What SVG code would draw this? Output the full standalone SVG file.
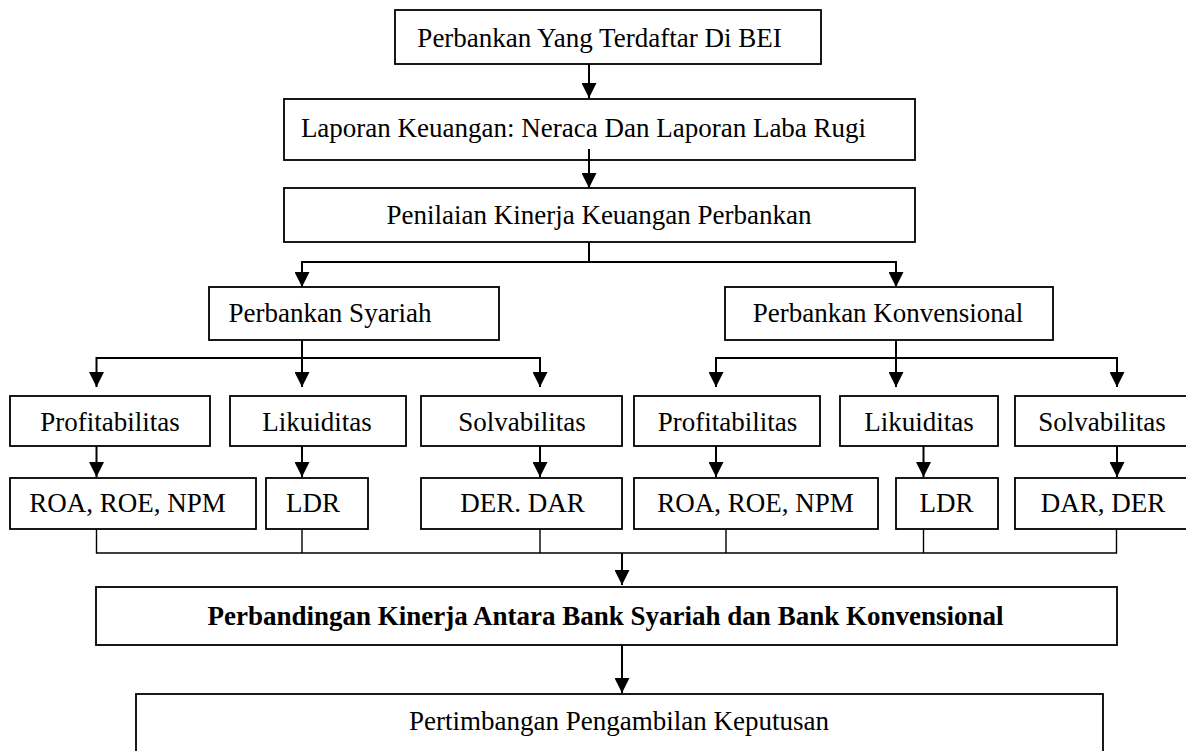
<svg xmlns="http://www.w3.org/2000/svg" width="1186" height="751" viewBox="0 0 1186 751">
<style>
.box{fill:none;stroke:#000;stroke-width:1.8}
.t{font-family:"Liberation Serif","Times New Roman",serif;font-size:27px;fill:#000;text-anchor:middle}
.b{font-weight:bold}
.c{fill:none;stroke:#000;stroke-width:2}
.m{fill:none;stroke:#000;stroke-width:1.4}
</style>
<defs>
<marker id="ah" markerUnits="userSpaceOnUse" markerWidth="15" markerHeight="15" refX="15" refY="7.5" orient="auto">
<path d="M0,0 L15,7.5 L0,15 z" fill="#000"/>
</marker>
</defs>
<rect width="1186" height="751" fill="#fff"/>
<g id="connectors">
<path class="c" d="M589,64 V98" marker-end="url(#ah)"/>
<path class="c" d="M589,149 V188" marker-end="url(#ah)"/>
<path class="c" d="M589,242 V262 H302 V287" marker-end="url(#ah)"/>
<path class="c" d="M589,262 H896 V287" marker-end="url(#ah)"/>
<path class="c" d="M302,340 V387" marker-end="url(#ah)"/>
<path class="c" d="M302,358 H96.5 V387" marker-end="url(#ah)"/>
<path class="c" d="M302,358 H540 V387" marker-end="url(#ah)"/>
<path class="c" d="M896,340 V387" marker-end="url(#ah)"/>
<path class="c" d="M896,358 H716 V387" marker-end="url(#ah)"/>
<path class="c" d="M896,358 H1117 V387" marker-end="url(#ah)"/>
<path class="c" d="M96.5,446 V477" marker-end="url(#ah)"/>
<path class="c" d="M302,446 V477" marker-end="url(#ah)"/>
<path class="c" d="M540,446 V477" marker-end="url(#ah)"/>
<path class="c" d="M716,446 V477" marker-end="url(#ah)"/>
<path class="c" d="M923.5,446 V477" marker-end="url(#ah)"/>
<path class="c" d="M1117,446 V477" marker-end="url(#ah)"/>
<path class="m" d="M96.5,529 V553 H1116.5 V529 M302,529 V553 M540,529 V553 M726,529 V553 M923.5,529 V553"/>
<path class="c" d="M622,553 V585" marker-end="url(#ah)"/>
<path class="c" d="M622,645 V693" marker-end="url(#ah)"/>
</g>
<g id="n-bei"><rect class="box" x="395" y="10" width="426" height="54"/><text class="t" x="599.5" y="47">Perbankan Yang Terdaftar Di BEI</text></g>
<g id="n-laporan"><rect class="box" x="284" y="99" width="631" height="61"/><text class="t" x="583.5" y="137">Laporan Keuangan: Neraca Dan Laporan Laba Rugi</text></g>
<g id="n-penilaian"><rect class="box" x="284" y="188" width="631" height="54"/><text class="t" x="599" y="224">Penilaian Kinerja Keuangan Perbankan</text></g>
<g id="n-syariah"><rect class="box" x="209" y="287" width="290" height="53"/><text class="t" x="330" y="322">Perbankan Syariah</text></g>
<g id="n-konvensional"><rect class="box" x="725" y="287" width="328" height="53"/><text class="t" x="888" y="322">Perbankan Konvensional</text></g>
<g id="n-prof-s"><rect class="box" x="10" y="396" width="200" height="50"/><text class="t" x="110" y="431">Profitabilitas</text></g>
<g id="n-lik-s"><rect class="box" x="230" y="396" width="176" height="50"/><text class="t" x="317" y="431">Likuiditas</text></g>
<g id="n-solv-s"><rect class="box" x="421" y="396" width="201" height="50"/><text class="t" x="522" y="431">Solvabilitas</text></g>
<g id="n-prof-k"><rect class="box" x="634" y="396" width="186" height="50"/><text class="t" x="727.5" y="431">Profitabilitas</text></g>
<g id="n-lik-k"><rect class="box" x="840" y="396" width="158" height="50"/><text class="t" x="919" y="431">Likuiditas</text></g>
<g id="n-solv-k"><rect class="box" x="1015" y="396" width="180" height="50"/><text class="t" x="1102" y="431">Solvabilitas</text></g>
<g id="n-roa-s"><rect class="box" x="10" y="478" width="246" height="51"/><text class="t" x="127.5" y="512">ROA, ROE, NPM</text></g>
<g id="n-ldr-s"><rect class="box" x="266" y="478" width="102" height="51"/><text class="t" x="313" y="512">LDR</text></g>
<g id="n-der-s"><rect class="box" x="421" y="478" width="201" height="51"/><text class="t" x="522.5" y="512">DER. DAR</text></g>
<g id="n-roa-k"><rect class="box" x="634" y="478" width="244" height="51"/><text class="t" x="755.5" y="512">ROA, ROE, NPM</text></g>
<g id="n-ldr-k"><rect class="box" x="896" y="478" width="102" height="51"/><text class="t" x="946.5" y="512">LDR</text></g>
<g id="n-dar-k"><rect class="box" x="1015" y="478" width="180" height="51"/><text class="t" x="1103" y="512">DAR, DER</text></g>
<g id="n-perbandingan"><rect class="box" x="96" y="587" width="1021" height="58"/><text class="t b" x="605.5" y="625">Perbandingan Kinerja Antara Bank Syariah dan Bank Konvensional</text></g>
<g id="n-pertimbangan"><rect class="box" x="136" y="694" width="967" height="70"/><text class="t" x="619" y="730">Pertimbangan Pengambilan Keputusan</text></g>
</svg>
